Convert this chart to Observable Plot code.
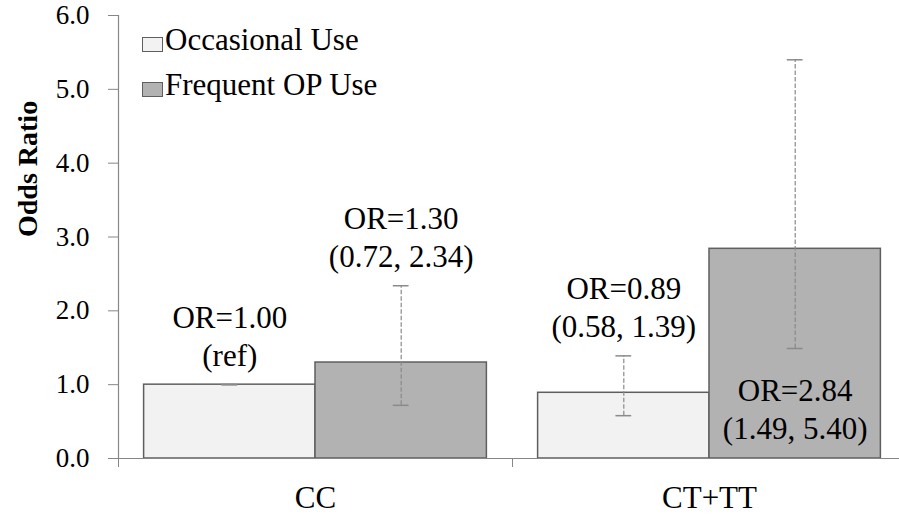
<!DOCTYPE html>
<html><head><meta charset="utf-8">
<script src="https://cdn.jsdelivr.net/npm/d3@7"></script>
<script src="https://cdn.jsdelivr.net/npm/@observablehq/plot@0.6"></script>
<style>
body{margin:0;background:#fff;}
#wrap{position:relative;width:899px;height:514px;font-family:'Liberation Serif';}
#wrap svg{display:block;}
#wrap svg text{font-family:'Liberation Serif';}
.lg{position:absolute;left:142px;height:45px;line-height:45px;font-size:31px;white-space:nowrap;color:#000;font-family:'Liberation Serif';}
.sw{display:inline-block;width:21px;height:15px;box-sizing:border-box;border:1.5px solid #5f5f5f;vertical-align:-2px;margin-right:2px;}
</style></head><body><div id="wrap"></div>
<script>
const groups = ["CC", "CT+TT"];
const series = ["Occasional Use", "Frequent OP Use"];
const occasionalOR = [1.00, 0.89];
const occasionalLow = [1.00, 0.58];
const occasionalHigh = [1.00, 1.39];
const frequentOR = [1.30, 2.84];
const frequentLow = [0.72, 1.49];
const frequentHigh = [2.34, 5.40];
const yTicks = [0, 1, 2, 3, 4, 5, 6];
const seriesColors = ["#f2f2f2", "#b2b2b2"];
const yTitle = "Odds Ratio";

const FONT = "Liberation Serif";
const axisColor = "#868686";
const errColor = "#8a8a8a";

const bySeries = [[occasionalOR, occasionalLow, occasionalHigh], [frequentOR, frequentLow, frequentHigh]];
const rows = groups.flatMap((g, gi) => series.map((s, si) => ({
  group: g, gi, series: s,
  or: bySeries[si][0][gi], lo: bySeries[si][1][gi], hi: bySeries[si][2][gi]
})));
const isRef = d => d.lo === d.hi && d.or === 1;
const label = d => `OR=${d.or.toFixed(2)}\n` + (isRef(d) ? "(ref)" : `(${d.lo.toFixed(2)}, ${d.hi.toFixed(2)})`);
const inside = d => d.hi > 5; // no room above the whisker

// inner band layout of the series within each group (in group units)
const inner = d3.scaleBand(series, [0.065, 0.935]);
const bx1 = d => d.gi + inner(d.series);
const bx2 = d => d.gi + inner(d.series) + inner.bandwidth();
const bxc = d => d.gi + inner(d.series) + inner.bandwidth() / 2;
const capHalf = 0.02;

const chart = Plot.plot({
  width: 899, height: 514,
  marginLeft: 118, marginRight: 0, marginTop: 15, marginBottom: 56,
  style: {fontFamily: FONT, fontSize: "27px", color: "black", background: "white"},
  x: {domain: [0, groups.length], range: [118, 906]},
  y: {domain: [0, 6]},
  color: {domain: series, range: seriesColors},
  marks: [
    Plot.rectY(rows, {x1: bx1, x2: bx2, y: "or", fill: "series", stroke: "#5f5f5f", strokeWidth: 1.5}),
    Plot.ruleX(rows, {x: bxc, y1: "lo", y2: "hi", stroke: errColor, strokeWidth: 1.2, strokeDasharray: "4.5,2"}),
    Plot.ruleY(rows, {x1: d => bxc(d) - capHalf, x2: d => bxc(d) + capHalf, y: "hi", stroke: errColor, strokeWidth: 1.5}),
    Plot.ruleY(rows, {x1: d => bxc(d) - capHalf, x2: d => bxc(d) + capHalf, y: "lo", stroke: errColor, strokeWidth: 1.5}),
    Plot.ruleY([0], {stroke: axisColor, strokeWidth: 1.2}),
    Plot.ruleX([0], {y1: yTicks[0], y2: yTicks[yTicks.length - 1], stroke: axisColor, strokeWidth: 1.2}),
    Plot.axisY({ticks: yTicks, tickFormat: d => d.toFixed(1), tickSize: 10, tickPadding: 19,
      stroke: axisColor, color: "black", fontSize: 27, fontFamily: FONT, label: null}),
    Plot.axisX({ticks: d3.range(groups.length + 1), tickSize: 9, tickFormat: () => "", stroke: axisColor, label: null}),
    Plot.axisX({ticks: groups.map((g, i) => i + 0.5), tickFormat: v => groups[Math.round(v - 0.5)],
      tickSize: 0, tickPadding: 27, fontSize: 31, fontFamily: FONT, color: "black", label: null}),
    Plot.text(rows.filter(d => !inside(d)), {x: bxc, y: "hi", text: label, lineAnchor: "bottom", dy: -19,
      fontSize: 31, lineHeight: 1.226, fontFamily: FONT, fill: "black"}),
    Plot.text(rows.filter(inside), {x: bxc, y: "lo", text: label, lineAnchor: "top", dy: 26,
      fontSize: 31, lineHeight: 1.226, fontFamily: FONT, fill: "black"}),
    Plot.text([yTitle], {frameAnchor: "left", rotate: -90, dx: -90, text: d => d,
      fontSize: 28, fontWeight: "bold", fontFamily: FONT, fill: "black"})
  ]
});

const wrap = document.getElementById("wrap");
wrap.appendChild(chart);
const color = chart.scale("color");
series.forEach((s, i) => {
  const row = document.createElement("div");
  row.className = "lg";
  row.style.top = (16.5 + i * 45) + "px";
  const sw = document.createElement("span");
  sw.className = "sw";
  sw.style.background = color.range[i];
  row.appendChild(sw);
  row.appendChild(document.createTextNode(s));
  wrap.appendChild(row);
});
</script></body></html>
